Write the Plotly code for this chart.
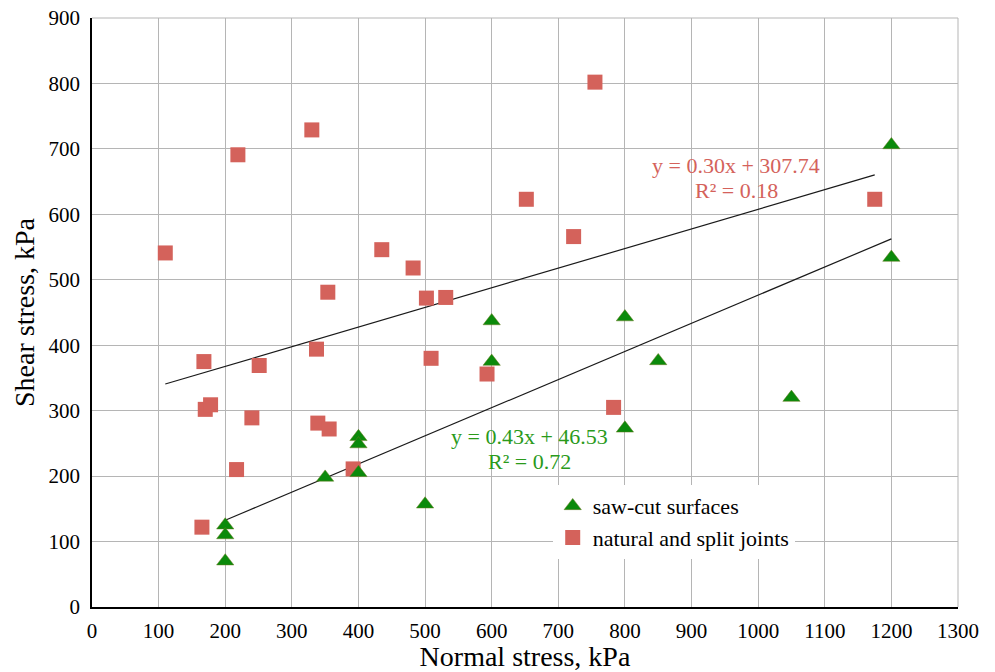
import plotly.graph_objects as go

# ---- data ----
saw_x = [200, 200, 200, 350, 400, 400, 400, 500, 600, 600, 800, 800, 850, 1050, 1200, 1200]
saw_y = [125, 110, 70, 198, 260, 249, 205, 157, 375, 437, 273, 443, 376, 320, 706, 534]

nat_x = [110, 219, 330, 354, 435, 482, 502, 531, 755, 652, 723, 1175,
         168, 251, 337, 509, 593, 170, 178, 240, 339, 356, 217, 392, 165, 783]
nat_y = [541, 691, 729, 481, 546, 518, 472, 473, 802, 623, 566, 623,
         375, 369, 394, 380, 356, 302, 309, 289, 281, 272, 210, 211, 122, 305]

saw_fit = (0.43, 46.53, 0.72)
nat_fit = (0.30, 307.74, 0.18)

x_ticks = list(range(0, 1301, 100))
y_ticks = list(range(0, 901, 100))

RED = "#d4625b"
GREEN = "#0b8a0b"
TXT_RED = "#d4625b"
TXT_GREEN = "#2a9a1a"
FONT = "'Liberation Serif', 'Times New Roman', 'DejaVu Serif', serif"

fig = go.Figure()

def trend(xs, coef):
    x0, x1 = min(xs), max(xs)
    return [x0, x1], [coef[0] * x0 + coef[1], coef[0] * x1 + coef[1]]

tx, ty = trend(nat_x, nat_fit)
fig.add_trace(go.Scatter(x=tx, y=ty, mode="lines", line=dict(color="#1a1a1a", width=1.2),
                         showlegend=False, hoverinfo="skip"))
tx, ty = trend(saw_x, saw_fit)
fig.add_trace(go.Scatter(x=tx, y=ty, mode="lines", line=dict(color="#1a1a1a", width=1.2),
                         showlegend=False, hoverinfo="skip"))

fig.add_trace(go.Scatter(x=nat_x, y=nat_y, mode="markers", name="natural and split joints",
                         marker=dict(symbol="square", size=15, color=RED, line=dict(width=0))))
fig.add_trace(go.Scatter(x=saw_x, y=saw_y, mode="markers", name="saw-cut surfaces",
                         marker=dict(symbol="triangle-up", size=15, color=GREEN,
                                     line=dict(width=0.5, color="#6b7a20"))))

def eq_text(c):
    return f"y = {c[0]:.2f}x + {c[1]:.2f}", f"R² = {c[2]:.2f}"

l1, l2 = eq_text(nat_fit)
fig.add_annotation(x=967, y=675, text=l1, showarrow=False, font=dict(family=FONT, size=22, color=TXT_RED))
fig.add_annotation(x=967, y=637, text=l2, showarrow=False, font=dict(family=FONT, size=22, color=TXT_RED))
l1, l2 = eq_text(saw_fit)
fig.add_annotation(x=656, y=260, text=l1, showarrow=False, font=dict(family=FONT, size=22, color=TXT_GREEN))
fig.add_annotation(x=656, y=222, text=l2, showarrow=False, font=dict(family=FONT, size=22, color=TXT_GREEN))

fig.update_layout(
    width=995, height=672,
    margin=dict(l=92, r=37, t=18, b=65, autoexpand=False),
    paper_bgcolor="white", plot_bgcolor="white",
    font=dict(family=FONT, size=21, color="black"),
    legend=dict(x=0.532, y=0.207, xanchor="left", yanchor="top", bgcolor="white",
                traceorder="reversed", font=dict(family=FONT, size=22),
                itemwidth=30),
    xaxis=dict(range=[0, 1300], tickvals=x_ticks, showgrid=True, gridcolor="#b5b5b5", gridwidth=1,
               showline=True, linecolor="black", linewidth=1.6, zeroline=False, ticks="",
               ticklabelstandoff=4, ticklabeloverflow="allow", automargin=False,
               title=dict(text="Normal stress, kPa", font=dict(family=FONT, size=28), standoff=4),
               tickfont=dict(family=FONT, size=21)),
    yaxis=dict(range=[0, 900], tickvals=y_ticks, showgrid=True, gridcolor="#b5b5b5", gridwidth=1,
               showline=True, linecolor="black", linewidth=1.6, zeroline=False, ticks="",
               ticklabelstandoff=6, ticklabeloverflow="allow", automargin=False,
               title=dict(text="Shear stress, kPa", font=dict(family=FONT, size=28), standoff=6),
               tickfont=dict(family=FONT, size=21)),
    showlegend=True,
)
fig.add_shape(type="line", xref="paper", yref="paper", x0=0, x1=1, y0=1, y1=1,
              line=dict(color="#b5b5b5", width=1))
fig.add_shape(type="line", xref="paper", yref="paper", x0=1, x1=1, y0=0, y1=1,
              line=dict(color="#b5b5b5", width=1))

fig.write_html("out.html", config={"displayModeBar": False},
               post_script="document.body.style.margin='0';document.body.style.overflow='hidden';")
